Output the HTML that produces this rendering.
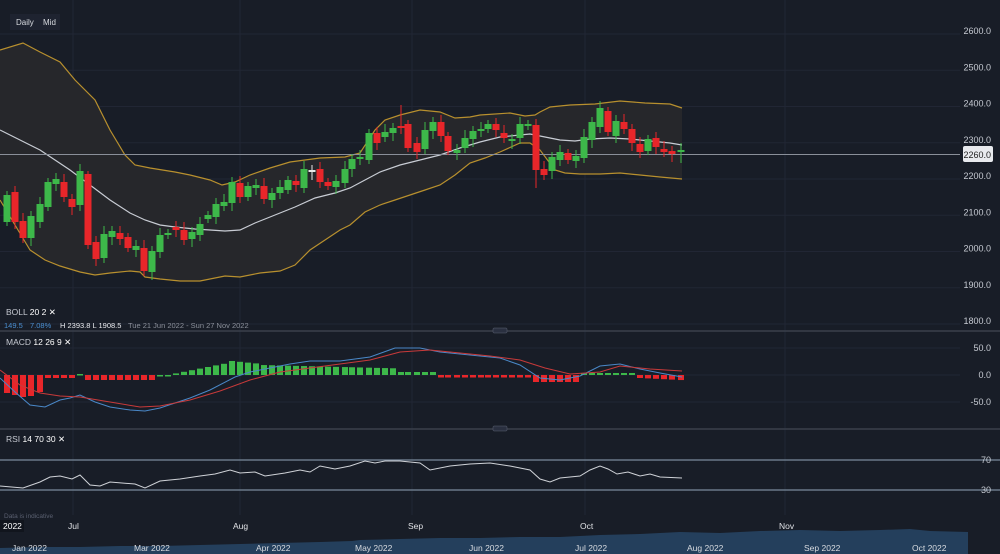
<!DOCTYPE html>
<html><head><meta charset="utf-8"><style>
html,body{margin:0;padding:0;background:#181d27;width:1000px;height:554px;overflow:hidden;font-family:"Liberation Sans",sans-serif}
svg{display:block}
text{font-family:"Liberation Sans",sans-serif}
</style></head><body>
<svg id="s" width="1000" height="554" xmlns="http://www.w3.org/2000/svg">
<rect width="1000" height="554" fill="#181d27"/>
<g id="grid"></g>
<polygon id="band" fill="#26272b" points=""/>
<polyline id="up" fill="none" stroke="#b8902e" stroke-width="1.2" points=""/>
<polyline id="lo" fill="none" stroke="#b8902e" stroke-width="1.2" points=""/>
<polyline id="mid" fill="none" stroke="#c8ccd4" stroke-width="1.2" points=""/>
<line x1="0" y1="154.5" x2="960" y2="154.5" stroke="#8a8f99" stroke-width="1"/>
<g id="candles"></g>
<rect x="963" y="146" width="30" height="16" rx="2" fill="#e8eaee"/>
<text x="991" y="158" font-size="9" fill="#222" text-anchor="end">2260.0</text>
<g id="labels" font-size="9" fill="#c6cad2" text-anchor="end"></g>
<rect x="10" y="14" width="50" height="16" fill="#1e2330"/>
<text x="16" y="25" font-size="8" fill="#d8dbe0">Daily</text>
<text x="43" y="25" font-size="8" fill="#d8dbe0">Mid</text>
<text x="6" y="315" font-size="8.5" fill="#c6cad2">BOLL <tspan fill="#fff">20  2 ✕</tspan></text>
<text x="4" y="328" font-size="7.5" fill="#4a8fd0">149.5</text>
<text x="30" y="328" font-size="7.5" fill="#4a8fd0">7.08%</text>
<text x="60" y="328" font-size="7.5" fill="#e8eaee">H 2393.8   L 1908.5</text>
<text x="128" y="328" font-size="7.5" fill="#8a8f99">Tue 21 Jun 2022 - Sun 27 Nov 2022</text>
<line x1="0" y1="331" x2="1000" y2="331" stroke="#3a404c" stroke-width="1.5"/>
<line x1="0" y1="429" x2="1000" y2="429" stroke="#3a404c" stroke-width="1.5"/>
<rect x="493" y="328" width="14" height="5" rx="1" fill="#2a3040" stroke="#5a6070" stroke-width="0.5"/>
<rect x="493" y="426" width="14" height="5" rx="1" fill="#2a3040" stroke="#5a6070" stroke-width="0.5"/>
<text x="6" y="345" font-size="8.5" fill="#c6cad2">MACD <tspan fill="#fff">12  26  9 ✕</tspan></text>
<g id="hist"></g>
<polyline id="mb" fill="none" stroke="#4a88c8" stroke-width="1" points=""/>
<polyline id="mr" fill="none" stroke="#c83a3a" stroke-width="1" points=""/>
<text x="6" y="442" font-size="8.5" fill="#c6cad2">RSI <tspan fill="#fff">14  70  30 ✕</tspan></text>
<line x1="0" y1="460" x2="1000" y2="460" stroke="#7a8a9c" stroke-width="1.2"/>
<line x1="0" y1="490" x2="1000" y2="490" stroke="#7a8a9c" stroke-width="1.2"/>
<text x="991" y="463" font-size="9" fill="#c6cad2" text-anchor="end">70</text>
<text x="991" y="493" font-size="9" fill="#c6cad2" text-anchor="end">30</text>
<polyline id="rsi" fill="none" stroke="#d0d3d8" stroke-width="1" points=""/>
<text x="4" y="518" font-size="6.5" fill="#5a6070">Data is indicative</text>
<rect x="0" y="520" width="24" height="12" fill="#11151d"/>
<text x="3" y="529" font-size="8.5" fill="#fff">2022</text>
<g font-size="8.5" fill="#e0e2e6">
<text x="68" y="529">Jul</text><text x="233" y="529">Aug</text><text x="408" y="529">Sep</text><text x="580" y="529">Oct</text><text x="779" y="529">Nov</text>
</g>
<polygon fill="#243f5c" points="0,554 0,548 40,547 80,547 120,546 160,546 200,545 240,544 280,543 320,542 352,541 360,540 400,539 440,538 480,538 520,537 560,537 580,536 600,535 640,534 680,532 720,533 760,531 800,530 840,531 880,530 910,529 930,531 968,532 968,554"/>
<g font-size="8.5" fill="#d8dbe0">
<text x="12" y="551">Jan 2022</text><text x="134" y="551">Mar 2022</text><text x="256" y="551">Apr 2022</text><text x="355" y="551">May 2022</text><text x="469" y="551">Jun 2022</text><text x="575" y="551">Jul 2022</text><text x="687" y="551">Aug 2022</text><text x="804" y="551">Sep 2022</text><text x="912" y="551">Oct 2022</text>
</g>
</svg>
<script>
var NS="http://www.w3.org/2000/svg";
function el(t,a,p){var e=document.createElementNS(NS,t);for(var k in a)e.setAttribute(k,a[k]);p.appendChild(e);return e;}
function pts(a){return a.map(function(p){return p[0]+","+p[1]}).join(" ");}
var g=document.getElementById("grid");
for(var i=0;i<9;i++){var y=31+i*36.25;el("line",{x1:0,y1:y+3,x2:960,y2:y+3,stroke:"#212634","stroke-width":1},g);
var t=el("text",{x:991,y:y+3},document.getElementById("labels"));t.textContent=(2600-i*100)+".0";}
[73,240,412,585,785].forEach(function(x){el("line",{x1:x,y1:0,x2:x,y2:515,stroke:"#212634","stroke-width":1},g);});
el("line",{x1:0,y1:348,x2:960,y2:348,stroke:"#212634"},g);el("line",{x1:0,y1:375,x2:960,y2:375,stroke:"#212634"},g);el("line",{x1:0,y1:402,x2:960,y2:402,stroke:"#212634"},g);
var L=document.getElementById("labels");
[["50.0",351],["0.0",378],["-50.0",405]].forEach(function(a){var t=el("text",{x:991,y:a[1]},L);t.textContent=a[0];});
var up=[[0,50],[23,43],[40,52],[60,62],[75,80],[95,100],[110,130],[125,155],[135,165],[150,168],[175,172],[190,175],[210,180],[222,185],[235,182],[250,175],[270,168],[290,162],[320,158],[345,157],[360,153],[375,130],[385,120],[400,115],[420,110],[440,112],[455,118],[470,117],[480,115],[510,113],[525,116],[535,115],[540,112],[550,107],[570,105],[595,104],[620,101],[645,103],[670,104],[682,108]];
var lo=[[0,200],[15,225],[30,250],[45,260],[60,266],[80,272],[95,275],[110,273],[130,271],[140,272],[145,277],[160,279],[180,281],[200,281],[215,278],[225,276],[240,277],[260,273],[280,271],[295,265],[310,250],[325,240],[340,230],[350,225],[365,212],[380,205],[395,200],[410,195],[425,190],[440,185],[455,175],[470,163],[485,158],[500,152],[520,143],[530,143],[540,150],[555,170],[565,173],[580,174],[600,174],[620,173],[640,175],[660,177],[682,179]];
var mid=[[0,130],[20,140],[40,150],[55,160],[70,170],[90,185],[110,200],[130,213],[145,220],[160,225],[175,227],[195,229],[210,230],[225,231],[240,230],[255,223],[275,215],[295,207],[315,198],[335,193],[350,188],[365,180],[380,172],[400,165],[420,160],[440,155],[460,148],[480,142],[500,137],[520,135],[530,134],[545,137],[560,140],[575,141],[590,139],[610,138],[630,139],[650,141],[670,143],[682,145]];
document.getElementById("up").setAttribute("points",pts(up));
document.getElementById("lo").setAttribute("points",pts(lo));
document.getElementById("mid").setAttribute("points",pts(mid));
document.getElementById("band").setAttribute("points",pts(up.concat(lo.slice().reverse())));
var C=[[7,195,222,1],[15,192,222,0],[23,221,238,0],[31,216,238,1],[40,204,222,1],[48,182,207,1],[56,179,184,1],[64,182,197,0],[72,199,207,0],[80,171,205,1],[88,174,245,0],[96,242,259,0],[104,234,258,1],[112,231,237,1],[120,233,239,0],[128,237,248,0],[136,246,250,1],[144,248,271,0],[152,251,272,1],[160,235,252,1],[168,233,235,1],[176,227,230,0],[184,230,240,0],[192,232,239,1],[200,224,235,1],[208,215,219,1],[216,204,217,1],[224,202,206,1],[232,182,203,1],[240,183,197,0],[248,186,197,1],[256,185,188,1],[264,186,199,0],[272,193,200,1],[280,187,193,1],[288,180,190,1],[296,181,185,0],[304,169,188,1],[312,170,172,2],[320,169,182,0],[328,182,186,0],[336,181,187,1],[345,169,183,1],[352,159,169,1],[360,157,159,1],[369,133,160,1],[377,133,143,0],[385,132,137,1],[393,128,133,1],[401,126,128,0],[408,124,148,0],[417,143,152,0],[425,130,149,1],[433,122,131,1],[441,122,136,0],[448,136,151,0],[457,150,153,1],[465,138,148,1],[473,131,139,1],[481,129,131,1],[488,124,129,1],[496,124,130,0],[504,133,138,0],[512,139,141,1],[520,124,138,1],[528,124,126,1],[536,125,170,0],[544,169,175,0],[552,157,171,1],[560,152,160,1],[568,153,160,0],[576,156,161,1],[584,137,158,1],[592,122,140,1],[600,108,127,1],[608,111,132,0],[616,121,136,1],[624,122,129,0],[632,129,143,0],[640,144,152,0],[648,139,151,1],[656,138,147,0],[664,149,152,0],[672,151,154,0],[681,150,152,1]];
var cg=document.getElementById("candles");
C.forEach(function(c,i){var col=c[3]==1?"#3db84a":(c[3]==2?"#e8e8e8":"#e8262a");
var wt=c[1]-4-(i*7%5),wb=c[2]+4+(i*3%5);if(c[0]==401)wt=105;if(c[0]==536)wb=188;if(c[0]==681)wb=163;if(c[0]==88)wt=171;
el("line",{x1:c[0],y1:wt,x2:c[0],y2:wb,stroke:col,"stroke-width":1},cg);
el("rect",{x:c[0]-3.5,y:c[1],width:7,height:Math.max(1.5,c[2]-c[1]),fill:col},cg);});
var hg=document.getElementById("hist");
C.forEach(function(c){var x=c[0],v;
if(x<48)v=[-18,-20,-22,-21,-17,-9][Math.round((x-7)/8)]||-9;
else if(x<80)v=-3;else if(x<88)v=1;else if(x<160)v=-5;else if(x<170)v=0;
else if(x<232)v=(x-168)/5;else if(x<262)v=14-(x-232)/10;else if(x<400)v=10-(x-262)/40;else if(x<440)v=3;
else if(x<530)v=-2.5;else if(x<584)v=-7;else if(x<640)v=2;else v=-3-(x-640)/20;
var y=v>0?375-v:375,h=Math.max(1.5,Math.abs(v));
el("rect",{x:x-3,y:y,width:6,height:h,fill:v>=0?"#3db84a":"#e8262a"},hg);});
document.getElementById("mb").setAttribute("points",pts([[0,378],[15,392],[30,405],[45,407],[60,400],[70,398],[80,395],[95,402],[110,407],[130,410],[145,411],[160,408],[175,403],[190,398],[210,390],[235,377],[250,372],[270,368],[290,364],[310,361],[340,361],[370,357],[395,348],[420,348],[440,352],[470,355],[500,358],[520,365],[540,378],[560,380],[580,376],[600,366],[620,364],[640,369],[660,373],[682,377]]));
document.getElementById("mr").setAttribute("points",pts([[0,370],[20,385],[40,393],[60,396],[80,397],[110,402],[140,407],[160,406],[190,400],[220,391],[250,380],[280,372],[310,368],[340,364],[370,360],[400,352],[430,350],[460,353],[490,356],[520,360],[545,368],[570,374],[600,372],[620,366],[650,369],[682,371]]));
document.getElementById("rsi").setAttribute("points",pts([[0,486],[23,488],[40,482],[50,477],[60,476],[72,479],[80,475],[90,485],[100,486],[110,482],[135,484],[145,488],[160,481],[180,479],[200,476],[215,474],[230,470],[240,473],[255,472],[265,476],[285,473],[300,470],[310,472],[320,466],[335,469],[350,466],[365,461],[375,463],[385,461],[400,461],[420,463],[430,470],[450,466],[470,464],[490,463],[510,466],[530,470],[540,479],[550,482],[560,478],[580,476],[590,470],[600,466],[608,469],[617,474],[628,472],[640,476],[650,474],[660,477],[682,478]]));
</script>
</body></html>
